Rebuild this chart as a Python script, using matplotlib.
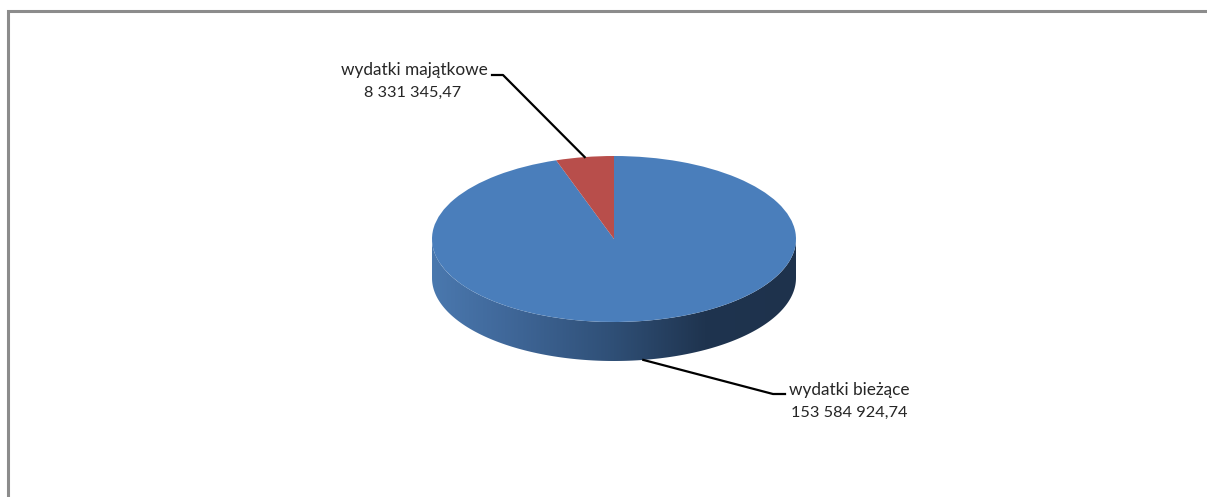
import numpy as np
import matplotlib
matplotlib.use("Agg")
import matplotlib.pyplot as plt
from matplotlib.colors import LinearSegmentedColormap
from matplotlib.patches import Polygon

labels = ['wydatki bieżące', 'wydatki majątkowe']
values = [153584924.74, 8331345.47]
value_texts = ['153 584 924,74', '8 331 345,47']
colors = ['#4a7ebb', '#b84e4b']

W, H = 1207, 497
# pie top ellipse in pixels
cx, cy, rx, ry = 614, 239, 182, 83
depth = 39 / ry

plt.rcParams['font.family'] = ['Lato', 'DejaVu Sans']
fig = plt.figure(figsize=(W / 100, H / 100), dpi=100)

# background layer in pixel coordinates
bg = fig.add_axes([0, 0, 1, 1])
bg.set_xlim(0, W)
bg.set_ylim(H, 0)
bg.axis('off')
bg.plot([8, 8, W], [H, 11, 11], color='#8c8c8c', lw=2.2, solid_joinstyle='miter')

# pie axes sits on the ellipse box, so a unit circle becomes the ellipse
ax = fig.add_axes([(cx - rx) / W, (H - cy - ry - 39) / H, 2 * rx / W, (2 * ry + 39) / H])
ax.pie(values, colors=colors, startangle=90, counterclock=False, radius=1,
       wedgeprops={'linewidth': 0})
ax.set_aspect('auto')
ax.set_xlim(-1, 1)
ax.set_ylim(-1 - depth, 1)

# side wall, shaded from left to right
t = np.linspace(np.pi, 2 * np.pi, 200)
wall = np.column_stack([np.r_[-1, np.cos(t), 1], np.r_[0, np.sin(t), 0] - np.r_[0, np.full(200, depth), 0]])
wall = np.vstack([wall, np.column_stack([np.cos(t[::-1]), np.sin(t[::-1])])])
cmap = LinearSegmentedColormap.from_list('wall', [(0, '#4a78ae'), (0.2, '#40689a'), (0.5, '#2f4f76'),
                                                  (0.75, '#1f344f'), (1, '#1e324c')])
im = ax.imshow(np.linspace(0, 1, 256)[None, :], cmap=cmap, aspect='auto', zorder=0,
               extent=(-1, 1, -1 - depth, 0))
im.set_clip_path(Polygon(wall, transform=ax.transData))
ax.set_xlim(-1, 1)
ax.set_ylim(-1 - depth, 1)

# leader lines start at the middle of each slice
angle = 2 * np.pi * values[1] / sum(values) / 2
sx = rx * np.sin(angle)
sy = ry * np.cos(angle)
bg.set_zorder(3)
bg.plot([cx - sx, 503, 492], [cy - sy, 75, 75], color='black', lw=1.6)
bg.plot([cx + sx, 773, 785], [cy + sy + 39, 394, 394], color='black', lw=1.6)

bg.text(414, 70, labels[1], ha='center', va='center', fontsize=12.4, color='#262626')
bg.text(413, 93, value_texts[1], ha='center', va='center', fontsize=11.7, color='#262626')
bg.text(849.5, 390, labels[0], ha='center', va='center', fontsize=12.4, color='#262626')
bg.text(849, 413, value_texts[0], ha='center', va='center', fontsize=11.8, color='#262626')

fig.savefig('out.png', dpi=100)
